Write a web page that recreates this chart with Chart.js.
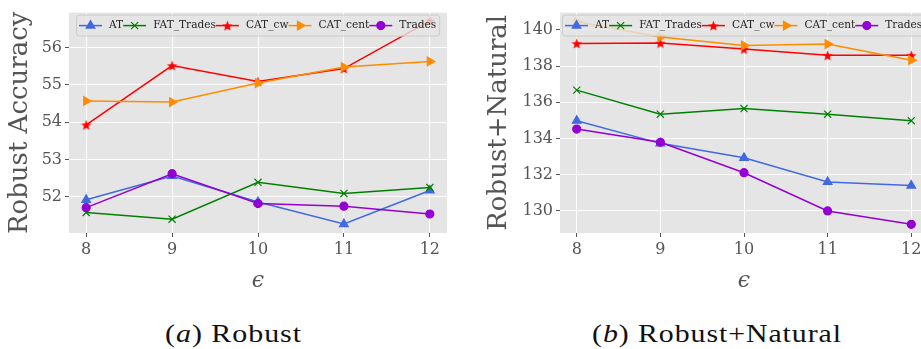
<!DOCTYPE html>
<html><head><meta charset="utf-8">
<script src="https://cdn.jsdelivr.net/npm/chart.js@4"></script>
<style>
html,body{margin:0;padding:0;background:#fff;}
body{width:921px;height:349px;overflow:hidden;position:relative;}
.box{position:absolute;top:0;height:300px;}
#l{left:0;width:460px;}
#r{left:460px;width:480px;}
.cap{position:absolute;top:321px;font-family:"Liberation Serif",serif;font-size:25px;line-height:25px;letter-spacing:0.8px;color:#111;white-space:nowrap;}
</style></head><body>
<div class="box" id="l"><canvas id="c1"></canvas></div>
<div class="box" id="r"><canvas id="c2"></canvas></div>
<div class="cap" id="capA">(<i>a</i>) Robust</div>
<div class="cap" id="capB">(<i>b</i>) Robust+Natural</div>
<script>
// ---- data ----
const eps = [8, 9, 10, 11, 12];
const seriesNames = ['AT', 'FAT_Trades', 'CAT_cw', 'CAT_cent', 'Trades'];
// (a) Robust accuracy
const robAT     = [51.92, 52.56, 51.86, 51.27, 52.17];
const robFAT    = [51.58, 51.40, 52.39, 52.09, 52.25];
const robCW     = [53.93, 55.52, 55.09, 55.44, 56.72];
const robCent   = [54.57, 54.54, 55.05, 55.48, 55.63];
const robTrades = [51.71, 52.62, 51.82, 51.75, 51.54];
// (b) Robust + Natural
const rnAT      = [134.98, 133.73, 132.93, 131.60, 131.40];
const rnFAT     = [136.67, 135.34, 135.65, 135.34, 134.98];
const rnCW      = [139.25, 139.27, 138.94, 138.59, 138.59];
const rnCent    = [140.45, 139.60, 139.14, 139.21, 138.32];
const rnTrades  = [134.52, 133.79, 132.11, 130.00, 129.26];

// ---- styles ----
const colors = ['#4169E1', '#008000', '#FF0000', '#FF8C00', '#9400D3'];
function starImg(color, r) {
  const s = Math.ceil(2 * r + 2);
  const c = document.createElement('canvas'); c.width = c.height = s;
  const g = c.getContext('2d'); g.fillStyle = color; g.beginPath();
  for (let i = 0; i < 10; i++) {
    const rr = i % 2 ? r * 0.42 : r;
    const ang = -Math.PI / 2 + i * Math.PI / 5;
    const px = s / 2 + rr * Math.cos(ang), py = s / 2 + rr * Math.sin(ang) + 0.6;
    i ? g.lineTo(px, py) : g.moveTo(px, py);
  }
  g.closePath(); g.fill(); return c;
}
const markers = [
  { pointStyle: 'triangle', pointRadius: 5, pointRotation: 0 },
  { pointStyle: 'crossRot', pointRadius: 5, pointRotation: 0 },
  { pointStyle: starImg('#FF0000', 5.5), pointRadius: 5, pointRotation: 0 },
  { pointStyle: 'triangle', pointRadius: 5, pointRotation: 90 },
  { pointStyle: 'circle', pointRadius: 4, pointRotation: 0 }
];

function makeDatasets(arrs) {
  return arrs.map((arr, i) => ({
    label: seriesNames[i],
    data: eps.map((x, j) => ({ x: x, y: arr[j] })),
    borderColor: colors[i], backgroundColor: colors[i],
    pointBackgroundColor: colors[i], pointBorderColor: colors[i],
    pointBorderWidth: 1.2, borderWidth: 1.5, tension: 0,
    pointStyle: markers[i].pointStyle, pointRadius: markers[i].pointRadius,
    pointRotation: markers[i].pointRotation, order: 4 - i
  }));
}

const bgPlugin = {
  id: 'bg',
  beforeDraw(chart) {
    const { ctx, chartArea: a } = chart;
    ctx.save(); ctx.fillStyle = '#E5E5E5';
    ctx.fillRect(a.left, a.top, a.right - a.left, a.bottom - a.top);
    ctx.restore();
  }
};

const legendPlugin = {
  id: 'mlegend',
  afterDatasetsDraw(chart) {
    const ctx = chart.ctx, a = chart.chartArea;
    ctx.save();
    ctx.font = '10.6px "DejaVu Serif"';
    const handle = 23, gap = 7, pad = 3, col = 0, h = 21;
    const items = chart.data.datasets.map(d => ({ d, w: ctx.measureText(d.label).width }));
    const total = items.reduce((s, it) => s + handle + gap + it.w + col, 0) - col + 2 * pad;
    const x0 = Math.round((a.left + a.right) / 2 - total / 2), y0 = a.top + 2;
    ctx.fillStyle = 'rgba(229,229,229,0.8)'; ctx.strokeStyle = '#cccccc'; ctx.lineWidth = 1;
    ctx.beginPath();
    if (ctx.roundRect) ctx.roundRect(x0 + 0.5, y0 + 0.5, total, h, 3); else ctx.rect(x0 + 0.5, y0 + 0.5, total, h);
    ctx.fill(); ctx.stroke();
    let x = x0 + pad; const yc = y0 + h / 2 + 0.5;
    items.forEach(it => {
      const d = it.d;
      ctx.strokeStyle = d.borderColor; ctx.lineWidth = 1.5;
      ctx.beginPath(); ctx.moveTo(x, yc); ctx.lineTo(x + handle, yc); ctx.stroke();
      ctx.fillStyle = d.borderColor; ctx.strokeStyle = d.borderColor; ctx.lineWidth = 1.2;
      Chart.helpers.drawPoint(ctx, { pointStyle: d.pointStyle, radius: d.pointRadius, rotation: d.pointRotation || 0, borderWidth: 1.2 }, x + handle / 2, yc);
      ctx.fillStyle = '#262626'; ctx.textBaseline = 'middle'; ctx.textAlign = 'left';
      ctx.fillText(d.label, x + handle + gap, yc);
      x += handle + gap + it.w + col;
    });
    ctx.restore();
  }
};

function makeScales(yMin, yMax, yStep, yTitle, yWidth) {
  const tickFont = { family: 'DejaVu Serif', size: 16 };
  return {
    x: {
      type: 'linear', min: 7.8, max: 12.2,
      ticks: { stepSize: 1, includeBounds: false, color: '#555555', font: tickFont, padding: 3, maxRotation: 0 },
      grid: { color: '#ffffff', lineWidth: 1, tickColor: '#555555', tickLength: 4, drawTicks: true },
      border: { display: false },
      title: { display: true, text: 'ϵ', color: '#555555', font: { family: 'DejaVu Serif', size: 22, style: 'italic' }, padding: { top: 0, bottom: 6 } },
      afterFit(s) { s.height = 67; }
    },
    y: {
      type: 'linear', min: yMin, max: yMax,
      ticks: { stepSize: yStep, includeBounds: false, color: '#555555', font: tickFont, padding: 3 },
      grid: { color: '#ffffff', lineWidth: 1, tickColor: '#555555', tickLength: 4, drawTicks: true },
      border: { display: false },
      title: { display: true, text: yTitle, color: '#555555', font: { family: 'DejaVu Serif', size: 26 }, padding: { top: 5, bottom: 0 } },
      afterFit(s) { s.width = yWidth; }
    }
  };
}

function makeChart(id, arrs, yMin, yMax, yStep, yTitle, yWidth, padding) {
  return new Chart(document.getElementById(id), {
    type: 'line',
    data: { datasets: makeDatasets(arrs) },
    options: {
      responsive: true, maintainAspectRatio: false, animation: false,
      layout: { padding: padding },
      plugins: { legend: { display: false }, tooltip: { enabled: false } },
      scales: makeScales(yMin, yMax, yStep, yTitle, yWidth)
    },
    plugins: [bgPlugin, legendPlugin]
  });
}

makeChart('c1', [robAT, robFAT, robCW, robCent, robTrades], 51.03, 56.94, 1, 'Robust Accuracy', 69, { left: 0, top: 12, right: 13, bottom: 0 });
makeChart('c2', [rnAT, rnFAT, rnCW, rnCent, rnTrades], 128.78, 140.95, 2, 'Robust+Natural', 81, { left: 19, top: 11, right: 12, bottom: 0 });

function fitCap(id, left, right) {
  const el = document.getElementById(id);
  const w = el.getBoundingClientRect().width;
  el.style.left = left + 'px';
  el.style.transformOrigin = '0 0';
  el.style.transform = 'scaleX(' + ((right - left) / w) + ')';
}
fitCap('capA', 165, 302);
fitCap('capB', 592, 842);
</script>
</body></html>
